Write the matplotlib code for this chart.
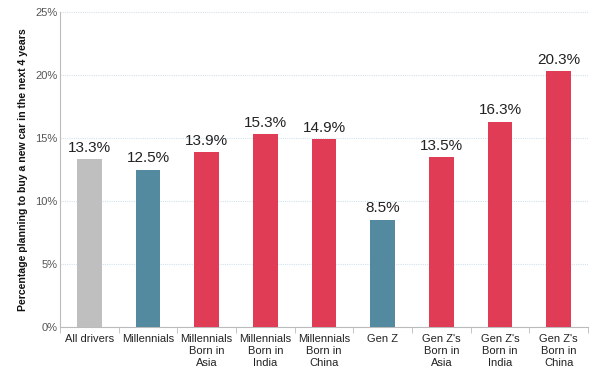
import matplotlib
matplotlib.use("Agg")
import matplotlib.pyplot as plt
import numpy as np
from matplotlib.ticker import PercentFormatter, FixedLocator

categories = ["All drivers", "Millennials", "Millennials\nBorn in\nAsia", "Millennials\nBorn in\nIndia",
              "Millennials\nBorn in\nChina", "Gen Z", "Gen Z's\nBorn in\nAsia", "Gen Z's\nBorn in\nIndia",
              "Gen Z's\nBorn in\nChina"]
values = [13.3, 12.5, 13.9, 15.3, 14.9, 8.5, 13.5, 16.3, 20.3]
colors = ["#BFBFBF", "#548A9F", "#E03C55", "#E03C55", "#E03C55", "#548A9F", "#E03C55", "#E03C55", "#E03C55"]
labels = ["13.3%", "12.5%", "13.9%", "15.3%", "14.9%", "8.5%", "13.5%", "16.3%", "20.3%"]

plt.rcParams['font.family'] = ['Liberation Sans', 'DejaVu Sans']
fig = plt.figure(figsize=(6, 3.81), dpi=100)
ax = fig.add_axes([0.1, 0.142, 0.88, 0.826])

x = np.arange(len(categories))
ax.bar(x, values, width=0.42, color=colors, zorder=3)
for xi, v, lab in zip(x, values, labels):
    ax.text(xi, v + 0.35, lab, ha='center', va='bottom', fontsize=11, color='#222222')

ax.set_xlim(-0.5, len(categories) - 0.5)
ax.set_ylim(0, 25)
ax.set_yticks([0, 5, 10, 15, 20, 25])
ax.yaxis.set_major_formatter(PercentFormatter(decimals=0))
ax.grid(axis='y', color='#D3E3EE', linestyle=(0, (1, 1)), linewidth=0.8, zorder=0)
ax.set_xticks(x)
ax.set_xticklabels(categories, fontsize=8, color='#222222', linespacing=1.25)
ax.xaxis.set_minor_locator(FixedLocator(np.arange(-0.5, len(categories), 1.0)))
ax.tick_params(axis='x', which='major', length=0, pad=5)
ax.tick_params(axis='x', which='minor', length=4, color='#BBBBBB')
ax.tick_params(axis='y', length=0, labelsize=8, labelcolor='#555555', pad=2)

for s in ['top', 'right']:
    ax.spines[s].set_visible(False)
ax.spines['left'].set_color('#BBBBBB')
ax.spines['bottom'].set_color('#BBBBBB')

ax.set_ylabel("Percentage planning to buy a new car in the next 4 years", fontsize=7.6, fontweight='bold',
              color='#111111', labelpad=5)

fig.savefig("out.png", dpi=100)
